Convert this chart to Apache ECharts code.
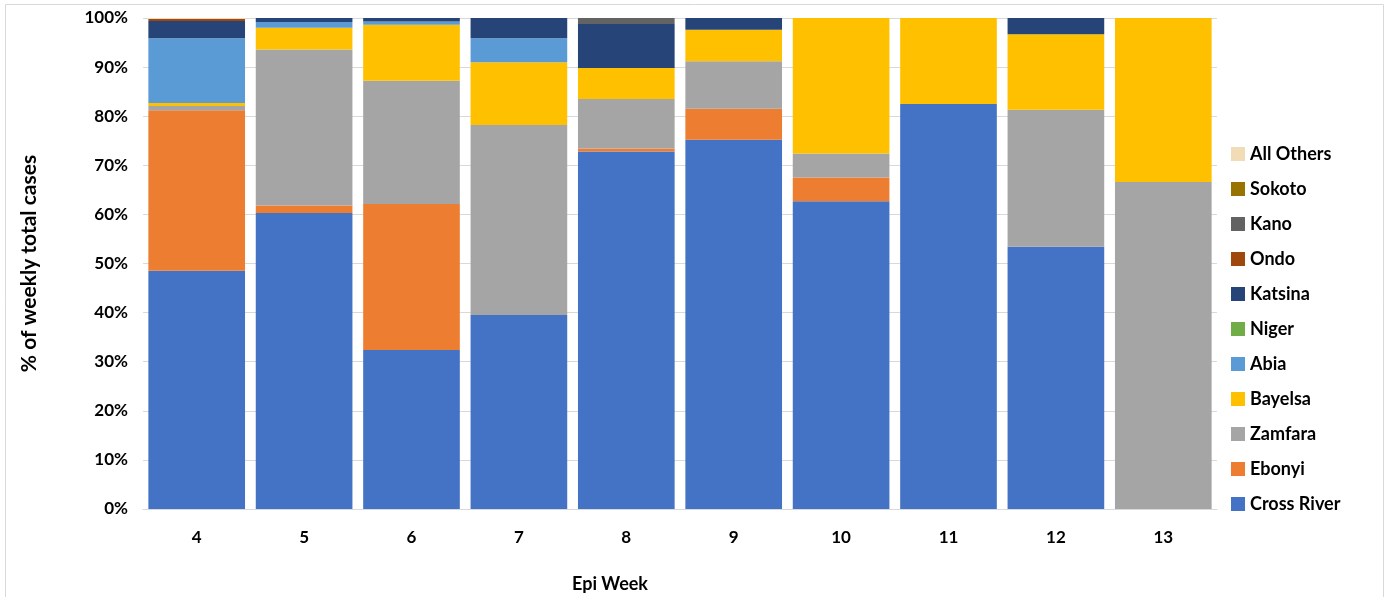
<!DOCTYPE html>
<html>
<head>
<meta charset="utf-8">
<script src="https://cdn.jsdelivr.net/npm/echarts@6/dist/echarts.min.js"></script>
<style>
  html, body { margin: 0; padding: 0; background: #fff; }
  #chart { width: 1384px; height: 597px; }
</style>
</head>
<body>
<div id="chart"></div>
<script>
var weeks = ['4', '5', '6', '7', '8', '9', '10', '11', '12', '13'];

// percent of weekly total cases, per state
var crossRiver = [48.5, 60.3, 32.4, 39.5, 72.8, 75.2, 62.7, 82.5, 53.4, 0];
var ebonyi     = [32.7, 1.5, 29.7, 0, 0.6, 6.3, 4.8, 0, 0, 0];
var zamfara    = [0.9, 31.8, 25.1, 38.7, 10.1, 9.7, 4.9, 0, 27.9, 66.6];
var bayelsa    = [0.6, 4.4, 11.4, 12.8, 6.3, 6.4, 27.6, 17.5, 15.4, 33.4];
var abia       = [13.2, 1.2, 0.7, 4.9, 0, 0, 0, 0, 0, 0];
var niger      = [0, 0, 0, 0, 0, 0, 0, 0, 0, 0];
var katsina    = [3.5, 0.8, 0.7, 4.1, 9.0, 2.4, 0, 0, 3.3, 0];
var ondo       = [0.4, 0, 0, 0, 0, 0, 0, 0, 0, 0];
var kano       = [0, 0, 0, 0, 1.2, 0, 0, 0, 0, 0];
var sokoto     = [0, 0, 0, 0, 0, 0, 0, 0, 0, 0];
var allOthers  = [0.2, 0, 0, 0, 0, 0, 0, 0, 0, 0];

var states = [
  { name: 'Cross River', data: crossRiver, color: '#4472C4' },
  { name: 'Ebonyi',      data: ebonyi,     color: '#ED7D31' },
  { name: 'Zamfara',     data: zamfara,    color: '#A5A5A5' },
  { name: 'Bayelsa',     data: bayelsa,    color: '#FFC000' },
  { name: 'Abia',        data: abia,       color: '#5B9BD5' },
  { name: 'Niger',       data: niger,      color: '#70AD47' },
  { name: 'Katsina',     data: katsina,    color: '#264478' },
  { name: 'Ondo',        data: ondo,       color: '#9E480E' },
  { name: 'Kano',        data: kano,       color: '#636363' },
  { name: 'Sokoto',      data: sokoto,     color: '#997300' },
  { name: 'All Others',  data: allOthers,  color: '#F1DCB6' }
];

var font = 'Lato, "Open Sans", sans-serif';

var chart = echarts.init(document.getElementById('chart'));

var option = {
  animation: false,
  textStyle: { fontFamily: font },
  grid: { left: 143, right: 167, top: 18, bottom: 88 },
  legend: {
    orient: 'vertical',
    left: 1226,
    top: 140,
    itemWidth: 14,
    itemHeight: 14,
    itemGap: 17,
    icon: 'rect',
    data: states.map(function (s) { return s.name; }).reverse(),
    textStyle: { fontSize: 18, fontWeight: 'bold', color: '#000', fontFamily: font }
  },
  xAxis: {
    type: 'category',
    data: weeks,
    axisTick: { show: false },
    axisLine: { lineStyle: { color: '#d9d9d9', width: 1 } },
    axisLabel: { margin: 20, fontSize: 17, fontWeight: 'bold', color: '#000', fontFamily: font }
  },
  yAxis: {
    type: 'value',
    min: 0,
    max: 100,
    interval: 10,
    name: '% of weekly total cases',
    nameLocation: 'middle',
    nameGap: 103,
    nameTextStyle: { fontSize: 21, fontWeight: 'bold', color: '#000', fontFamily: font },
    axisLine: { show: false },
    axisTick: { show: false },
    axisLabel: {
      margin: 15,
      fontSize: 17,
      fontWeight: 'bold',
      color: '#000',
      fontFamily: font,
      formatter: '{value}%'
    },
    splitLine: { lineStyle: { color: '#d9d9d9', width: 1 } }
  },
  graphic: [
    {
      type: 'rect',
      left: 3, top: 2,
      shape: { width: 1378, height: 600 },
      style: { fill: 'none', stroke: '#d9d9d9', lineWidth: 1 },
      silent: true
    },
    {
      type: 'text',
      left: 572, top: 575,
      style: { text: 'Epi Week', font: 'bold 18px ' + font, fill: '#000' }
    }
  ],
  series: states.map(function (s) {
    return {
      name: s.name,
      type: 'bar',
      stack: 'total',
      barCategoryGap: '10%',
      data: s.data,
      itemStyle: { color: s.color }
    };
  })
};

chart.setOption(option);
</script>
</body>
</html>
